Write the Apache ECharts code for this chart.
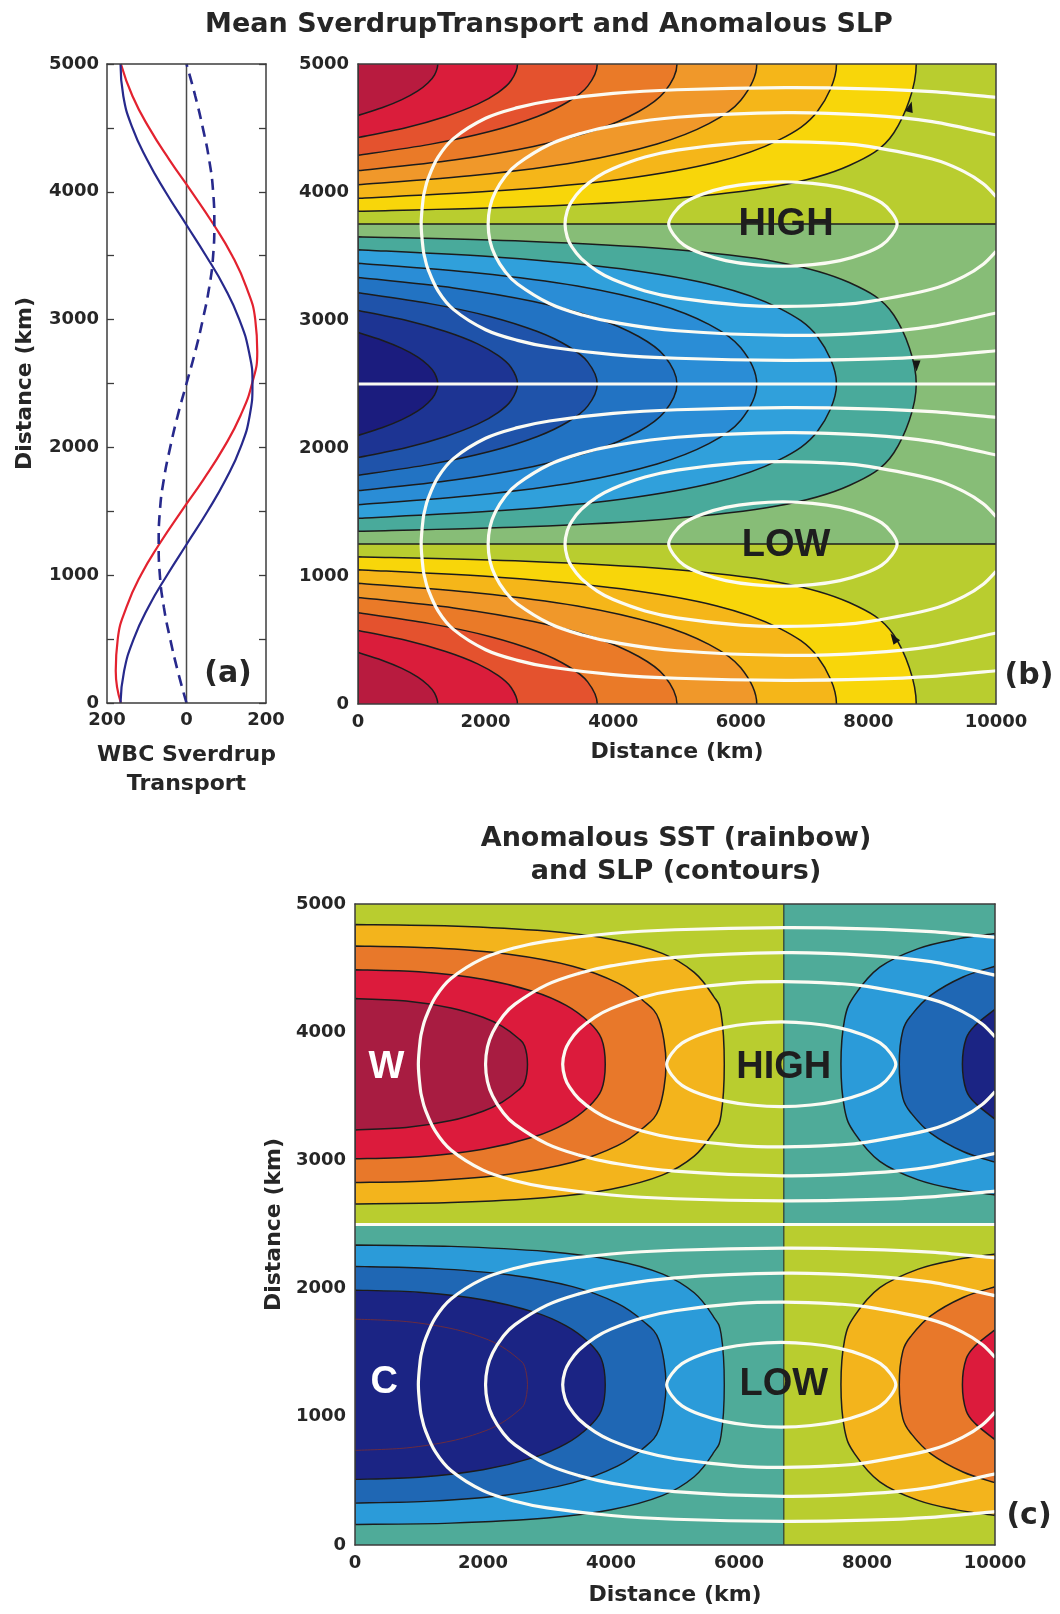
<!DOCTYPE html>
<html>
<head>
<meta charset="utf-8">
<script src="https://cdn.jsdelivr.net/npm/echarts@6/dist/echarts.min.js"></script>
<style>html,body{margin:0;padding:0;background:#fff}#c{width:1060px;height:1614px}</style>
</head>
<body>
<div id="c"></div>
<script>
// ================= DATA =================
// Panel (a): WBC Sverdrup transport vs distance
const yKm = [0,250,500,750,1000,1250,1500,1750,2000,2250,2500,2750,3000,3250,3500,3750,4000,4250,4500,4750,5000];
const wbcRed = [-165,-178,-173,-151,-115,-67,-13,43,94,136,165,178,173,151,115,67,13,-43,-94,-136,-165];
const wbcBlue = [-166,-157,-133,-96,-49,2,53,99,136,159,166,157,133,96,49,-2,-53,-99,-136,-159,-166];
const wbcBlueDashed = [0,-22,-41,-57,-67,-70,-67,-57,-41,-22,0,22,41,57,67,70,67,57,41,22,0];
const wbcZero = [[0,0],[0,5000]];

// Panel (b): mean Sverdrup transport contours, [x km, half-height km] from west edge to tip
const sstB_k1 = [[0,402],[375,342],[688,278],[938,210],[1100,146],[1200,85],[1250,0]];
const sstB_k2 = [[0,575],[750,498],[1375,410],[1875,314],[2200,221],[2400,129],[2500,0]];
const sstB_k3 = [[0,713],[1125,628],[2063,528],[2813,410],[3300,293],[3600,173],[3750,0]];
const sstB_k4 = [[0,833],[1500,750],[2750,644],[3750,512],[4400,371],[4800,221],[5000,0]];
const sstB_k5 = [[0,944],[1875,868],[3438,766],[4688,625],[5500,466],[6000,283],[6250,0]];
const sstB_k6 = [[0,1049],[2250,989],[4125,900],[5625,766],[6600,593],[7200,371],[7500,0]];
const sstB_k7 = [[0,1150],[2625,1115],[4813,1056],[6563,954],[7700,793],[8400,537],[8750,0]];
const sstBCenters = {warmTop: 5000, cold: 2500, warmBottom: 0};
const sstBZeroLines = [[[0,3750],[10000,3750]], [[0,1250],[10000,1250]]];
const warmB = ['#b9cd2f','#f8d60a','#f5b619','#f0982a','#ea7a28','#e4522e','#da1d3b','#b81b3f'];
const coldB = ['#87bd77','#49aa9b','#30a0db','#2a8dd6','#2273c3','#1f53aa','#1d3493','#1b1c7e'];
const flowArrowsB = [[8656,4666,-15],[8754,2640,180],[8396,516,35]];

// Panel (c): anomalous SST contours
const sstC_W2 = [[0,1090],[1500,1079],[3000,1039],[4000,975],[4800,865],[5300,717],[5600,532],[5720,396],[5770,0]];
const sstC_W4 = [[0,923],[1200,908],[2400,858],[3400,765],[4100,635],[4500,497],[4750,348],[4860,0]];
const sstC_W6 = [[0,738],[1000,721],[2000,663],[2800,566],[3300,459],[3650,331],[3850,201],[3910,0]];
const sstC_W8 = [[0,512],[800,493],[1500,439],[2000,366],[2300,295],[2550,203],[2650,143],[2695,0]];
const sstC_E2 = [[10000,1019],[9400,976],[8800,902],[8200,757],[7800,533],[7650,350],[7593,0]];
const sstC_E4 = [[10000,764],[9500,681],[9000,539],[8700,387],[8560,262],[8504,0]];
const sstC_E6 = [[10000,428],[9700,307],[9550,202],[9491,0]];
const sstCZeroLines = [[[6700,0],[6700,5000]], [[0,2500],[10000,2500]]];
const posC = ['#b9cd2f','#f3b41c','#e8782a','#dc1b3c','#a81c41'];
const negC = ['#4fab99','#2b9bd9','#1f67b4','#1b2484','#1b2484'];

// SLP (white) contours, shared by (b) and (c): [x km, half-height km] from east edge to tip
const slp1 = [[10000,990],[9000,1034],[8000,1056],[6700,1065],[5000,1049],[4000,1020],[3000,961],[2500,909],[2000,826],[1500,669],[1250,518],[1100,356],[1050,269],[1020,192],[990,0]];
const slp2 = [[10000,695],[9000,800],[8000,850],[6700,870],[5000,834],[4000,767],[3500,709],[3000,621],[2500,469],[2300,367],[2150,248],[2070,135],[2040,0]];
const slp3 = [[10000,214],[9800,314],[9500,409],[9000,508],[8000,607],[7500,631],[6700,644],[6000,634],[5000,577],[4500,523],[4000,434],[3750,368],[3500,271],[3350,177],[3280,103],[3245,0]];
const slp4 = [[8450,0],[8370,85],[8210,165],[7925,233],[7555,286],[7125,318],[6660,330],[6195,318],[5765,286],[5395,233],[5110,165],[4950,85],[4870,0]];
const slpCenters = [3750, 1250];
const slpZero = [[0,2500],[10000,2500]];

const labelsB = [['HIGH',6710,3745],['LOW',6710,1235]];
const labelsC = [['HIGH',6700,3721],['LOW',6700,1248]];
const labelsCWhite = [['W',490,3721],['C',455,1264]];

// ================= DRAWING =================
const FONT = 'DejaVu Sans';
const INK = '#262626';
const LINE = '#1c1c1c';

function catmull(pts, closed) {
  const n = pts.length;
  const P = i => closed ? pts[(i + n) % n] : pts[Math.max(0, Math.min(n - 1, i))];
  const f = v => v.toFixed(2);
  let d = 'M' + f(pts[0][0]) + ',' + f(pts[0][1]);
  const segs = closed ? n : n - 1;
  for (let i = 0; i < segs; i++) {
    const p0 = P(i - 1), p1 = P(i), p2 = P(i + 1), p3 = P(i + 2);
    const c1x = p1[0] + (p2[0] - p0[0]) / 6, c1y = p1[1] + (p2[1] - p0[1]) / 6;
    const c2x = p2[0] - (p3[0] - p1[0]) / 6, c2y = p2[1] - (p3[1] - p1[1]) / 6;
    d += ' C' + f(c1x) + ',' + f(c1y) + ' ' + f(c2x) + ',' + f(c2y) + ' ' + f(p2[0]) + ',' + f(p2[1]);
  }
  if (closed) d += ' Z';
  return d;
}

function lobe(prof, cy, fill, stroke, lw) { return {kind: 'lobe', prof, cy, fill, stroke: stroke || LINE, lw: lw || 1.5}; }
function rect(x0, x1, y0, y1, fill) { return {kind: 'rect', x0, x1, y0, y1, fill}; }
function seg(pts, stroke, lw) { return {kind: 'line', pts, stroke, lw}; }

// Layers for panel (b)
const layersB = [
  rect(0, 10000, 3750, 5000, warmB[0]),
  rect(0, 10000, 1250, 3750, coldB[0]),
  rect(0, 10000, 0, 1250, warmB[0])
];
[sstB_k7, sstB_k6, sstB_k5, sstB_k4, sstB_k3, sstB_k2, sstB_k1].forEach((prof, i) => {
  layersB.push(lobe(prof, sstBCenters.warmTop, warmB[i + 1]));
  layersB.push(lobe(prof, sstBCenters.cold, coldB[i + 1]));
  layersB.push(lobe(prof, sstBCenters.warmBottom, warmB[i + 1]));
});
sstBZeroLines.forEach(l => layersB.push(seg(l, LINE, 1.7)));

// Layers for panel (c)
const layersC = [
  rect(0, 6700, 2500, 5000, posC[0]),
  rect(0, 6700, 0, 2500, negC[0]),
  rect(6700, 10000, 2500, 5000, negC[0]),
  rect(6700, 10000, 0, 2500, posC[0])
];
[sstC_W2, sstC_W4, sstC_W6, sstC_W8].forEach((prof, i) => {
  layersC.push(lobe(prof, 3750, posC[i + 1]));
  layersC.push(lobe(prof, 1250, negC[i + 1], i === 3 ? '#6a2c40' : LINE, i === 3 ? 1 : 1.4));
});
[sstC_E2, sstC_E4, sstC_E6].forEach((prof, i) => {
  layersC.push(lobe(prof, 3750, negC[i + 1]));
  layersC.push(lobe(prof, 1250, posC[i + 1]));
});
sstCZeroLines.forEach(l => layersC.push(seg(l, '#2a3a30', 1.2)));

// SLP white contour layers (same for b and c)
const WHITE = '#fbfbf3';
const slpLayers = [];
slpCenters.forEach(cy => {
  [slp1, slp2, slp3].forEach(p => slpLayers.push({kind: 'open', prof: p, cy}));
  slpLayers.push({kind: 'ellipse', prof: slp4, cy});
});
slpLayers.push(seg(slpZero, WHITE, 3.2));

function makeRender(list) {
  return function (params, api) {
    const s = list[params.dataIndex];
    const z2 = params.dataIndex;
    if (s.kind === 'rect') {
      const a = api.coord([s.x0, s.y1]), b = api.coord([s.x1, s.y0]);
      return {type: 'rect', z2, shape: {x: a[0], y: a[1], width: b[0] - a[0], height: b[1] - a[1]}, style: {fill: s.fill}};
    }
    if (s.kind === 'line') {
      const pts = s.pts.map(p => api.coord(p));
      return {type: 'polyline', z2, shape: {points: pts}, style: {stroke: s.stroke, lineWidth: s.lw, fill: null}};
    }
    const up = s.prof.map(p => api.coord([p[0], s.cy + p[1]]));
    if (s.kind === 'ellipse') {
      const lo = s.prof.slice(1, -1).reverse().map(p => api.coord([p[0], s.cy - p[1]]));
      return {type: 'path', z2, shape: {pathData: catmull(up.concat(lo), true)}, style: {fill: null, stroke: WHITE, lineWidth: 3.2}};
    }
    const lo = s.prof.slice(0, -1).reverse().map(p => api.coord([p[0], s.cy - p[1]]));
    const pts = up.concat(lo);
    if (s.kind === 'open') {
      return {type: 'path', z2, shape: {pathData: catmull(pts, false)}, style: {fill: null, stroke: WHITE, lineWidth: 3.2}};
    }
    return {type: 'path', z2, shape: {pathData: catmull(pts, false) + ' Z'}, style: {fill: s.fill, stroke: s.stroke, lineWidth: s.lw}};
  };
}

function textSeries(xi, list, color) {
  return {
    type: 'custom', xAxisIndex: xi, yAxisIndex: xi, z: 6, silent: true, clip: false,
    data: list.map(l => [l[1], l[2]]),
    renderItem: (params, api) => {
      const p = api.coord([api.value(0), api.value(1)]);
      return {type: 'text', x: p[0], y: p[1], style: {text: list[params.dataIndex][0],
        fontFamily: 'Liberation Sans', fontWeight: 'bold', fontSize: 38, fill: color,
        textAlign: 'center', textVerticalAlign: 'middle', opacity: 1}};
    }
  };
}

const plain = v => String(v);
const tickFont = {fontFamily: FONT, fontWeight: 'bold', fontSize: 18, color: INK};
const nameFont = {fontFamily: FONT, fontWeight: 'bold', fontSize: 22, color: INK};
const frameLine = {show: true, onZero: false, lineStyle: {color: '#3c3c3c', width: 1.5}};
const tickStyle = {color: '#3c3c3c', width: 1.3};

function frameAxis(gridIndex, position, min, max, interval, ticks) {
  return {
    type: 'value', gridIndex, position, min, max, interval, z: 10,
    axisLine: frameLine,
    axisLabel: {show: false},
    axisTick: {show: !!ticks, inside: true, length: 7, lineStyle: tickStyle},
    minorTick: {show: !!ticks, splitNumber: 2, length: 7, lineStyle: tickStyle},
    splitLine: {show: false}
  };
}

const option = {
  backgroundColor: '#ffffff',
  animation: false,
  grid: [
    {left: 107, top: 64, width: 159, height: 639},
    {left: 358, top: 64, width: 638, height: 640},
    {left: 355, top: 904, width: 640, height: 641}
  ],
  xAxis: [
    {type: 'value', gridIndex: 0, min: -200, max: 200, interval: 200, z: 10,
     axisLine: frameLine, axisTick: {show: false}, splitLine: {show: false},
     axisLabel: Object.assign({margin: 8, formatter: v => String(Math.abs(v))}, tickFont),
     name: 'WBC Sverdrup\nTransport', nameLocation: 'middle', nameGap: 38,
     nameTextStyle: Object.assign({lineHeight: 29}, nameFont)},
    frameAxis(0, 'top', -200, 200, 200, false),
    {type: 'value', gridIndex: 1, min: 0, max: 10000, interval: 2000, z: 10,
     axisLine: frameLine, axisTick: {show: false}, splitLine: {show: false},
     axisLabel: Object.assign({margin: 9, formatter: plain}, tickFont),
     name: 'Distance (km)', nameLocation: 'middle', nameGap: 37, nameTextStyle: nameFont},
    frameAxis(1, 'top', 0, 10000, 2000, false),
    {type: 'value', gridIndex: 2, min: 0, max: 10000, interval: 2000, z: 10,
     axisLine: frameLine, axisTick: {show: false}, splitLine: {show: false},
     axisLabel: Object.assign({margin: 9, formatter: plain}, tickFont),
     name: 'Distance (km)', nameLocation: 'middle', nameGap: 39, nameTextStyle: nameFont},
    frameAxis(2, 'top', 0, 10000, 2000, false)
  ],
  yAxis: [
    {type: 'value', gridIndex: 0, min: 0, max: 5000, interval: 1000, z: 10,
     axisLine: frameLine,
     axisTick: {show: true, inside: true, length: 7, lineStyle: tickStyle},
     minorTick: {show: true, splitNumber: 2, length: 7, lineStyle: tickStyle},
     splitLine: {show: false},
     axisLabel: Object.assign({margin: 8, formatter: plain}, tickFont),
     name: 'Distance (km)', nameLocation: 'middle', nameGap: 71, nameTextStyle: nameFont},
    frameAxis(0, 'right', 0, 5000, 1000, true),
    {type: 'value', gridIndex: 1, min: 0, max: 5000, interval: 1000, z: 10,
     axisLine: frameLine, axisTick: {show: false}, splitLine: {show: false},
     axisLabel: Object.assign({margin: 9, formatter: plain}, tickFont)},
    frameAxis(1, 'right', 0, 5000, 1000, false),
    {type: 'value', gridIndex: 2, min: 0, max: 5000, interval: 1000, z: 10,
     axisLine: frameLine, axisTick: {show: false}, splitLine: {show: false},
     axisLabel: Object.assign({margin: 9, formatter: plain}, tickFont),
     name: 'Distance (km)', nameLocation: 'middle', nameGap: 69, nameTextStyle: nameFont},
    frameAxis(2, 'right', 0, 5000, 1000, false)
  ],
  graphic: [
    {type: 'text', x: 549, y: 25, style: {text: 'Mean SverdrupTransport and Anomalous SLP', fontFamily: FONT, fontWeight: 'bold', fontSize: 27, fill: INK, textAlign: 'center', textVerticalAlign: 'middle'}},
    {type: 'text', x: 676, y: 839, style: {text: 'Anomalous SST (rainbow)', fontFamily: FONT, fontWeight: 'bold', fontSize: 27, fill: INK, textAlign: 'center', textVerticalAlign: 'middle'}},
    {type: 'text', x: 676, y: 872, style: {text: 'and SLP (contours)', fontFamily: FONT, fontWeight: 'bold', fontSize: 27, fill: INK, textAlign: 'center', textVerticalAlign: 'middle'}},
    {type: 'text', x: 228, y: 674, style: {text: '(a)', fontFamily: FONT, fontWeight: 'bold', fontSize: 30, fill: INK, textAlign: 'center', textVerticalAlign: 'middle'}},
    {type: 'text', x: 1029, y: 676, style: {text: '(b)', fontFamily: FONT, fontWeight: 'bold', fontSize: 30, fill: INK, textAlign: 'center', textVerticalAlign: 'middle'}},
    {type: 'text', x: 1029, y: 1516, style: {text: '(c)', fontFamily: FONT, fontWeight: 'bold', fontSize: 30, fill: INK, textAlign: 'center', textVerticalAlign: 'middle'}}
  ],
  series: [
    // panel (a)
    {type: 'line', xAxisIndex: 0, yAxisIndex: 0, data: wbcZero, symbol: 'none', silent: true,
     lineStyle: {color: '#4a4a4a', width: 1.5}, z: 2},
    {type: 'line', xAxisIndex: 0, yAxisIndex: 0, data: yKm.map((y, i) => [wbcRed[i], y]), symbol: 'none', smooth: true,
     lineStyle: {color: '#e3222f', width: 2.2}, z: 3},
    {type: 'line', xAxisIndex: 0, yAxisIndex: 0, data: yKm.map((y, i) => [wbcBlue[i], y]), symbol: 'none', smooth: true,
     lineStyle: {color: '#27298c', width: 2.2}, z: 3},
    {type: 'line', xAxisIndex: 0, yAxisIndex: 0, data: yKm.map((y, i) => [wbcBlueDashed[i], y]), symbol: 'none', smooth: true,
     lineStyle: {color: '#27298c', width: 2.6, type: [11, 7]}, z: 3},
    // panel (b)
    {type: 'custom', xAxisIndex: 2, yAxisIndex: 2, clip: true, z: 2, silent: true,
     data: layersB.map(() => [0, 0]), renderItem: makeRender(layersB)},
    {type: 'custom', xAxisIndex: 2, yAxisIndex: 2, clip: true, z: 3, silent: true,
     data: slpLayers.map(() => [0, 0]), renderItem: makeRender(slpLayers)},
    {type: 'scatter', xAxisIndex: 2, yAxisIndex: 2, z: 4, silent: true,
     data: flowArrowsB.map(a => [a[0], a[1], a[2]]), symbol: 'triangle', symbolSize: [8, 11],
     symbolRotate: (v) => v[2], itemStyle: {color: '#151515', opacity: 1}},
    textSeries(2, labelsB, '#1e1e1e'),
    // panel (c)
    {type: 'custom', xAxisIndex: 4, yAxisIndex: 4, clip: true, z: 2, silent: true,
     data: layersC.map(() => [0, 0]), renderItem: makeRender(layersC)},
    {type: 'custom', xAxisIndex: 4, yAxisIndex: 4, clip: true, z: 3, silent: true,
     data: slpLayers.map(() => [0, 0]), renderItem: makeRender(slpLayers)},
    textSeries(4, labelsC, '#1e1e1e'),
    textSeries(4, labelsCWhite, '#ffffff')
  ]
};

const chart = echarts.init(document.getElementById('c'), null, {renderer: 'canvas', width: 1060, height: 1614});
chart.setOption(option);
</script>
</body>
</html>
